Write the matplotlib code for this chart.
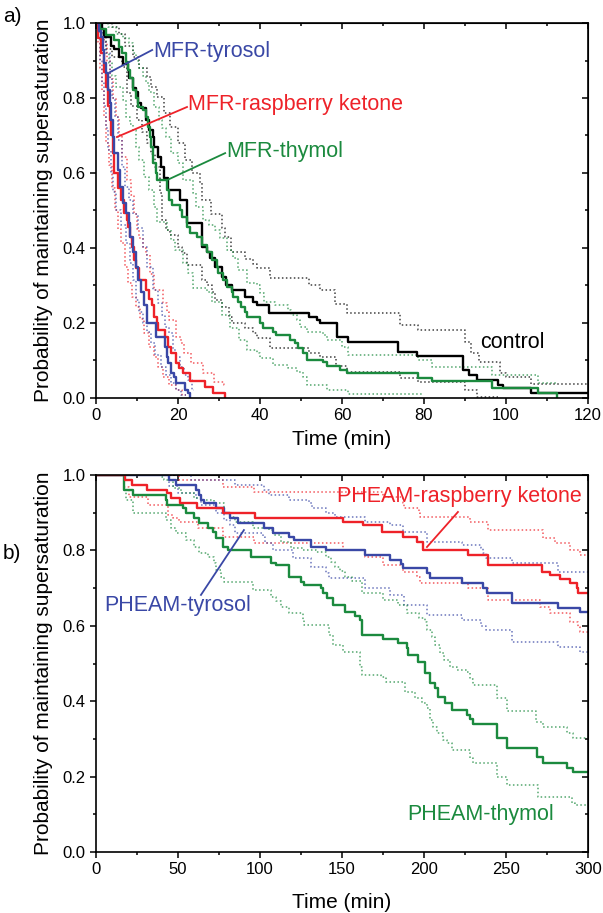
import matplotlib
matplotlib.use('Agg')
import matplotlib.pyplot as plt
from matplotlib.ticker import MultipleLocator, FormatStrFormatter

plt.rcParams['font.family'] = ['Liberation Sans', 'DejaVu Sans']

GREEN = '#1b8a3e'
RED = '#ee2229'
BLUE = '#3a48a6'
BLACK = '#000000'

# ---------------- a) MFR systems, time in min ----------------
ctrl_t = [0, 1.5, 2, 3.6, 4.4, 5.5, 6.5, 7.8, 8.1, 9.0, 9.8, 10.2, 11.0, 12.2, 13.0, 13.9, 14.2, 15.2, 15.9, 16.6,
          17.6, 20.5, 22.2, 25.8, 27.0, 27.8, 29.0, 30.7, 31.8, 33.2, 36.3, 38.3, 39.2, 42.2, 52.0, 54.0, 54.6, 58.8,
          61.5, 73.7, 78.3, 89.5, 91.0, 93.0, 98.0, 99.3, 106.0, 120]
ctrl_s = [1.0, 0.985, 0.963, 0.94, 0.93, 0.91, 0.89, 0.875, 0.853, 0.827, 0.816, 0.787, 0.773, 0.741, 0.715, 0.696,
          0.669, 0.643, 0.616, 0.587, 0.555, 0.528, 0.467, 0.403, 0.39, 0.373, 0.35, 0.323, 0.30, 0.288, 0.27, 0.257,
          0.248, 0.227, 0.216, 0.208, 0.2, 0.163, 0.149, 0.123, 0.112, 0.075, 0.061, 0.048, 0.035, 0.026, 0.013, 0.013]
ctrl_hi_t = [0, 4, 5.5, 7, 9, 10.5, 12.4, 13.5, 15, 16.5, 18, 20, 21.7, 23.5, 25.4, 25.9, 28, 30.7, 31.5, 33, 36.3,
             38.3, 39.2, 42.4, 52, 54.6, 58.3, 61.2, 74.2, 78.5, 90, 91.5, 93.5, 98.5, 100, 106, 120]
ctrl_hi_s = [1.0, 0.99, 0.97, 0.94, 0.91, 0.88, 0.856, 0.83, 0.803, 0.76, 0.723, 0.68, 0.635, 0.6, 0.573, 0.528, 0.49,
             0.453, 0.43, 0.39, 0.37, 0.357, 0.347, 0.32, 0.30, 0.288, 0.25, 0.227, 0.195, 0.181, 0.15, 0.12, 0.096,
             0.067, 0.055, 0.037, 0.037]
ctrl_lo_t = [0, 1, 2.5, 4, 6.3, 7.6, 8.5, 10, 11.2, 12.4, 13.4, 14.4, 15.6, 16, 17, 18, 20, 21, 22.2, 25.8, 27, 28.3,
             29, 30.7, 32.5, 33.2, 36.3, 38.3, 39.2, 42.4, 52, 54.6, 58.5, 61.2, 74.2, 78.5, 90, 93, 98]
ctrl_lo_s = [1.0, 0.97, 0.93, 0.91, 0.883, 0.813, 0.78, 0.74, 0.71, 0.68, 0.65, 0.616, 0.547, 0.475, 0.448, 0.435,
             0.403, 0.387, 0.355, 0.315, 0.30, 0.283, 0.261, 0.243, 0.216, 0.2, 0.187, 0.173, 0.16, 0.133, 0.12, 0.11,
             0.085, 0.07, 0.053, 0.043, 0.02, 0.003, 0.003]

thy_t = [0, 1, 2.4, 4.4, 5.6, 6.4, 7.3, 7.9, 8.3, 9.0, 9.8, 10.2, 11.5, 12.2, 12.7, 13.1, 13.5, 13.9, 14.6, 15.0,
         17.3, 17.9, 18.6, 20.5, 21.0, 22.2, 23.0, 24.6, 25.9, 27.0, 28.3, 29.5, 29.8, 31.0, 32.0, 33.2, 33.5, 34.6,
         35.4, 36.3, 36.8, 40.0, 40.8, 43.2, 44.0, 47.3, 48.5, 49.3, 50.5, 51.5, 55.4, 56.3, 59.5, 61.2, 78.5, 82.0,
         96.5, 107.8, 112.4]
thy_s = [1.0, 0.985, 0.968, 0.955, 0.936, 0.92, 0.896, 0.875, 0.853, 0.821, 0.80, 0.776, 0.768, 0.749, 0.723, 0.696,
         0.669, 0.627, 0.60, 0.581, 0.555, 0.528, 0.515, 0.501, 0.483, 0.456, 0.44, 0.43, 0.408, 0.39, 0.368, 0.35,
         0.333, 0.315, 0.296, 0.283, 0.27, 0.256, 0.243, 0.229, 0.216, 0.2, 0.187, 0.176, 0.168, 0.155, 0.146, 0.133,
         0.12, 0.101, 0.096, 0.085, 0.075, 0.067, 0.053, 0.045, 0.027, 0.013, 0.0]
thy_hi_t = [0, 3, 5, 6.5, 8, 9, 9.8, 10.6, 11.5, 12.2, 13, 14.1, 15.4, 16.2, 17, 18.3, 20, 21.2, 23.7, 24.4, 26, 27.5,
            29, 30.2, 32, 33.4, 34.7, 36.8, 39.2, 40, 41, 43.7, 46.8, 47.5, 49, 49.8, 51.5, 55.4, 56.3, 60, 61.5, 78.5,
            82, 96.5, 107.8, 112.4]
thy_hi_s = [1.0, 0.99, 0.97, 0.96, 0.947, 0.92, 0.9, 0.88, 0.86, 0.84, 0.816, 0.776, 0.741, 0.72, 0.696, 0.653, 0.627,
            0.581, 0.547, 0.509, 0.475, 0.46, 0.448, 0.427, 0.395, 0.373, 0.341, 0.307, 0.30, 0.28, 0.256, 0.248, 0.235,
            0.221, 0.208, 0.189, 0.176, 0.168, 0.155, 0.136, 0.115, 0.101, 0.083, 0.061, 0.04, 0.04]
thy_lo_t = [0, 0.8, 1.7, 2.5, 3.2, 4, 4.9, 6.6, 7.3, 8.2, 9, 9.8, 10.5, 11.7, 13, 14.1, 14.9, 17.3, 18.3, 19.3, 21.2,
            22.4, 23.7, 27, 28.3, 30.7, 32.7, 35, 36.8, 39.2, 40, 43.2, 46.8, 49, 50.5, 51.5, 56.3, 61.5, 80]
thy_lo_s = [1.0, 0.98, 0.955, 0.92, 0.893, 0.86, 0.83, 0.795, 0.749, 0.73, 0.715, 0.669, 0.635, 0.59, 0.555, 0.509,
            0.469, 0.448, 0.42, 0.395, 0.36, 0.333, 0.293, 0.283, 0.256, 0.221, 0.187, 0.155, 0.128, 0.12, 0.107,
            0.088, 0.08, 0.069, 0.056, 0.035, 0.021, 0.01, 0.01]

rk_t = [0, 0.5, 1.2, 2.0, 2.5, 2.9, 3.3, 3.7, 4.1, 4.5, 5.4, 6.1, 6.8, 7.5, 7.8, 8.2, 8.7, 9.2, 9.8, 10.5, 12.2, 13.0,
        13.7, 14.1, 14.8, 15.2, 16.8, 17.6, 18.3, 19.5, 20.2, 21.3, 23.0, 26.6, 28.5, 31.5]
rk_s = [1.0, 0.96, 0.92, 0.87, 0.83, 0.78, 0.741, 0.70, 0.653, 0.60, 0.56, 0.528, 0.493, 0.475, 0.456, 0.43, 0.403,
        0.368, 0.347, 0.315, 0.288, 0.265, 0.248, 0.216, 0.2, 0.181, 0.163, 0.136, 0.12, 0.093, 0.08, 0.067, 0.045,
        0.029, 0.013, 0.0]
rk_hi_t = [0, 1.2, 2.0, 2.8, 3.5, 4.2, 4.8, 5.6, 6.4, 7.5, 8.5, 9.3, 10.0, 10.5, 11.5, 12.2, 13.2, 14.1, 16.3, 17.2,
           17.8, 19.5, 20.7, 21.5, 23.2, 26.1, 28.8, 31.2, 31.5]
rk_hi_s = [1.0, 0.98, 0.95, 0.90, 0.85, 0.80, 0.75, 0.70, 0.643, 0.581, 0.54, 0.49, 0.45, 0.427, 0.40, 0.381, 0.33,
           0.288, 0.253, 0.23, 0.208, 0.163, 0.147, 0.12, 0.093, 0.067, 0.043, 0.035, 0.035]
rk_lo_t = [0, 0.4, 0.9, 1.4, 1.9, 2.5, 3.1, 3.8, 4.6, 5.3, 6.1, 7.0, 7.8, 8.8, 9.8, 10.7, 11.7, 12.9, 14.1, 15.2,
           16.3, 17.8, 19.5, 21.0, 22.0]
rk_lo_s = [1.0, 0.95, 0.88, 0.82, 0.75, 0.68, 0.62, 0.56, 0.50, 0.45, 0.413, 0.35, 0.307, 0.27, 0.243, 0.21, 0.173,
           0.136, 0.11, 0.083, 0.056, 0.035, 0.021, 0.008, 0.008]

ty_t = [0, 0.8, 1.2, 1.6, 2.0, 2.4, 2.9, 3.3, 3.7, 4.1, 4.4, 5.4, 5.9, 6.6, 7.2, 8.0, 8.4, 9.0, 9.7, 10.3, 11.0, 11.8,
        12.4, 14.6, 16.8, 17.2, 17.6, 18.3, 19.0, 19.6, 21.6, 22.5, 23.0]
ty_s = [1.0, 0.98, 0.963, 0.928, 0.893, 0.867, 0.821, 0.787, 0.741, 0.696, 0.653, 0.608, 0.563, 0.52, 0.493, 0.467,
        0.43, 0.39, 0.35, 0.315, 0.283, 0.248, 0.2, 0.163, 0.136, 0.11, 0.093, 0.067, 0.056, 0.04, 0.021, 0.013, 0.0]
ty_hi_t = [0, 1, 1.8, 2.4, 3.3, 4.0, 4.6, 5.4, 6.3, 7.1, 8.0, 9.0, 10.2, 11.5, 12.5, 14.0, 15.1, 16.0, 16.8, 17.8,
           18.8, 19.5, 20.5, 21.5, 22.5, 23.4, 24.0]
ty_hi_s = [1.0, 0.98, 0.95, 0.92, 0.85, 0.80, 0.749, 0.688, 0.616, 0.563, 0.528, 0.49, 0.453, 0.403, 0.35, 0.288,
           0.253, 0.22, 0.19, 0.173, 0.128, 0.11, 0.083, 0.06, 0.048, 0.021, 0.021]
ty_lo_t = [0, 0.5, 1.0, 1.5, 2.0, 2.5, 3.0, 3.6, 4.2, 5.0, 6.0, 7.3, 8.2, 9.0, 9.8, 10.6, 11.5, 12.4, 13.4, 14.5, 15.9,
           17.0, 18.3, 19.5, 20.7, 22.0]
ty_lo_s = [1.0, 0.96, 0.90, 0.84, 0.78, 0.72, 0.66, 0.60, 0.55, 0.50, 0.46, 0.413, 0.36, 0.315, 0.261, 0.23, 0.2, 0.175,
           0.147, 0.115, 0.083, 0.06, 0.04, 0.02, 0.008, 0.008]

# ---------------- b) PHEAM systems, time in min ----------------
prk_t = [0, 17.8, 22, 31, 43, 46, 51, 61.6, 77.4, 97, 150.6, 163, 174.4, 187, 196, 199.4, 227, 239, 272, 277, 283,
         289, 293, 294, 300]
prk_s = [1.0, 0.987, 0.973, 0.96, 0.952, 0.939, 0.925, 0.912, 0.9, 0.886, 0.875, 0.867, 0.849, 0.836, 0.822, 0.801,
         0.788, 0.761, 0.743, 0.735, 0.725, 0.714, 0.70, 0.687, 0.687]
prk_hi_t = [0, 50.6, 77.4, 96.3, 175, 187, 188, 197, 197.6, 228, 239, 272.6, 280, 289, 295, 300]
prk_hi_s = [1.0, 0.987, 0.968, 0.955, 0.942, 0.925, 0.912, 0.9, 0.889, 0.875, 0.854, 0.833, 0.82, 0.801, 0.788, 0.788]
prk_lo_t = [0, 17, 20, 31.7, 43.9, 47, 50.6, 62, 77.4, 96.3, 150.6, 164, 175, 187, 196, 197.6, 227, 239, 271, 277,
            289, 294, 295, 300]
prk_lo_s = [1.0, 0.968, 0.942, 0.92, 0.894, 0.885, 0.875, 0.86, 0.836, 0.82, 0.801, 0.783, 0.761, 0.743, 0.73, 0.714,
            0.70, 0.669, 0.65, 0.634, 0.61, 0.597, 0.584, 0.584]

pty_t = [0, 44.5, 48.8, 61, 63, 64, 66, 73, 78, 82, 86.6, 102.6, 108, 117.7, 120.7, 131, 140, 164, 179.3, 186, 187,
         201.8, 203.7, 223, 236, 238.4, 253.6, 281.7, 295, 300]
pty_s = [1.0, 0.987, 0.973, 0.96, 0.947, 0.934, 0.925, 0.912, 0.9, 0.886, 0.873, 0.86, 0.846, 0.836, 0.828, 0.809,
         0.801, 0.788, 0.775, 0.764, 0.753, 0.74, 0.727, 0.714, 0.70, 0.687, 0.66, 0.647, 0.637, 0.637]
pty_hi_t = [0, 58, 85, 102.6, 105.5, 117.7, 130, 132, 140, 146, 164, 179, 187, 201.8, 223, 235, 236, 238, 253.6,
            281.7, 300]
pty_hi_s = [1.0, 0.987, 0.973, 0.96, 0.947, 0.934, 0.925, 0.912, 0.9, 0.889, 0.875, 0.867, 0.849, 0.822, 0.814, 0.806,
            0.793, 0.78, 0.767, 0.743, 0.743]
pty_lo_t = [0, 44.5, 50, 61, 64, 73, 78, 82, 85, 101.8, 103, 108, 120, 131, 140, 142, 164, 179, 188, 201.8, 223, 235,
            238, 253.6, 281.7, 295, 300]
pty_lo_s = [1.0, 0.97, 0.952, 0.939, 0.92, 0.9, 0.88, 0.867, 0.846, 0.836, 0.82, 0.801, 0.78, 0.756, 0.74, 0.727, 0.70,
            0.682, 0.655, 0.629, 0.615, 0.60, 0.589, 0.557, 0.544, 0.531, 0.531]

pth_t = [0, 17, 22.6, 42.7, 43.5, 53, 55, 60, 63, 68.3, 71.5, 73, 77.4, 80.5, 94.5, 106.7, 110, 117.7, 125, 127, 137,
         138.4, 141, 144.5, 151.8, 158, 161, 162, 175, 184, 189.6, 190, 196.3, 200.6, 203.7, 206.7, 208.5, 212.8, 217,
         226, 228, 230, 244.5, 250.6, 268.9, 272.6, 287, 291, 300]
pth_s = [1.0, 0.96, 0.947, 0.934, 0.92, 0.912, 0.9, 0.886, 0.873, 0.86, 0.849, 0.833, 0.809, 0.801, 0.783, 0.767,
         0.761, 0.73, 0.716, 0.708, 0.70, 0.687, 0.675, 0.655, 0.637, 0.625, 0.615, 0.576, 0.566, 0.555, 0.541, 0.523,
         0.504, 0.475, 0.448, 0.435, 0.411, 0.395, 0.377, 0.363, 0.352, 0.34, 0.302, 0.276, 0.252, 0.236, 0.223,
         0.212, 0.212]
pth_hi_t = [0, 40, 41.5, 47, 52, 60, 65, 72, 78, 82, 85, 96, 105.5, 108, 113, 119, 126, 134, 140, 143, 146, 149, 152,
            156, 162, 175, 184, 189.6, 197, 200.6, 202, 204.7, 207, 209.8, 212, 215.9, 220, 226, 228, 230, 244.5,
            250.6, 268, 272.6, 287, 291, 300]
pth_hi_s = [1.0, 0.995, 0.987, 0.965, 0.952, 0.94, 0.935, 0.925, 0.9, 0.89, 0.875, 0.86, 0.854, 0.84, 0.822, 0.806,
            0.801, 0.796, 0.783, 0.77, 0.756, 0.745, 0.73, 0.72, 0.687, 0.668, 0.655, 0.634, 0.62, 0.61, 0.59, 0.57,
            0.55, 0.528, 0.51, 0.491, 0.483, 0.477, 0.46, 0.443, 0.408, 0.374, 0.345, 0.332, 0.315, 0.302, 0.302]
pth_lo_t = [0, 17, 18, 22.6, 42.7, 46, 49, 55, 60, 63, 68, 72, 73, 76, 78, 96, 106.7, 110, 113, 117.7, 126, 127, 142,
            144.5, 150.6, 161, 162, 174, 177, 188.4, 194.5, 199, 201.8, 203.5, 205.5, 208, 211.6, 214, 217, 228, 230,
            244.5, 250.6, 269.5, 290, 292, 300]
pth_lo_s = [1.0, 0.96, 0.934, 0.9, 0.88, 0.86, 0.846, 0.828, 0.809, 0.793, 0.783, 0.767, 0.748, 0.73, 0.716, 0.695,
            0.676, 0.665, 0.65, 0.634, 0.615, 0.602, 0.576, 0.549, 0.531, 0.491, 0.469, 0.464, 0.451, 0.424, 0.408,
            0.395, 0.382, 0.35, 0.332, 0.315, 0.297, 0.289, 0.27, 0.25, 0.236, 0.199, 0.178, 0.146, 0.13, 0.125, 0.125]


def km(ax, t, s, color, dotted=False):
    if dotted:
        ax.step(t, s, where='post', color=color, lw=1.1, ls=(0, (1, 1.6)), alpha=0.75)
    else:
        ax.step(t, s, where='post', color=color, lw=1.7)


def frame(ax, xmax, xmaj, xmin):
    ax.set_xlim(0, xmax)
    ax.set_ylim(0, 1.0)
    ax.xaxis.set_major_locator(MultipleLocator(xmaj))
    ax.xaxis.set_minor_locator(MultipleLocator(xmin))
    ax.yaxis.set_major_locator(MultipleLocator(0.2))
    ax.yaxis.set_minor_locator(MultipleLocator(0.1))
    ax.yaxis.set_major_formatter(FormatStrFormatter('%.1f'))
    ax.tick_params(which='both', direction='out', width=1.1, labelsize=12, pad=3)
    ax.tick_params(which='major', length=4.5)
    ax.tick_params(which='minor', length=2.5)
    for sp in ax.spines.values():
        sp.set_linewidth(1.2)
    top = ax.secondary_xaxis('top')
    top.xaxis.set_major_locator(MultipleLocator(xmaj))
    top.xaxis.set_minor_locator(MultipleLocator(xmin))
    top.tick_params(which='both', direction='in', labeltop=False, width=1.1)
    top.tick_params(which='major', length=4.5)
    top.tick_params(which='minor', length=2.5)
    right = ax.secondary_yaxis('right')
    right.yaxis.set_major_locator(MultipleLocator(0.2))
    right.yaxis.set_minor_locator(MultipleLocator(0.1))
    right.tick_params(which='both', direction='in', labelright=False, width=1.1)
    right.tick_params(which='major', length=4.5)
    right.tick_params(which='minor', length=2.5)
    ax.set_ylabel('Probability of maintaining supersaturation', fontsize=15)
    ax.yaxis.set_label_coords(-0.088, 0.5)


fig = plt.figure(figsize=(6.03, 9.13), dpi=100)
ax1 = fig.add_axes([0.1592, 0.5641, 0.8159, 0.4107])
ax2 = fig.add_axes([0.1592, 0.0668, 0.8159, 0.4129])

# panel a
for t, s, c in [(ctrl_hi_t, ctrl_hi_s, BLACK), (ctrl_lo_t, ctrl_lo_s, BLACK),
                (thy_hi_t, thy_hi_s, GREEN), (thy_lo_t, thy_lo_s, GREEN),
                (rk_hi_t, rk_hi_s, RED), (rk_lo_t, rk_lo_s, RED),
                (ty_hi_t, ty_hi_s, BLUE), (ty_lo_t, ty_lo_s, BLUE)]:
    km(ax1, t, s, c, dotted=True)
km(ax1, ctrl_t, ctrl_s, BLACK)
km(ax1, thy_t, thy_s, GREEN)
km(ax1, rk_t, rk_s, RED)
km(ax1, ty_t, ty_s, BLUE)
frame(ax1, 120, 20, 10)
ax1.set_xlabel('Time (min)', fontsize=15, va='center')
ax1.xaxis.set_label_coords(0.5, -0.112)

ax1.plot([13.7, 3.4], [0.928, 0.869], color=BLUE, lw=1.3)
ax1.text(13.9, 0.925, 'MFR-tyrosol', color=BLUE, fontsize=15.5, va='center')
ax1.plot([22.2, 5.1], [0.776, 0.696], color=RED, lw=1.3)
ax1.text(22.4, 0.782, 'MFR-raspberry ketone', color=RED, fontsize=15.5, va='center')
ax1.plot([31.5, 17.3], [0.653, 0.581], color=GREEN, lw=1.3)
ax1.text(31.8, 0.656, 'MFR-thymol', color=GREEN, fontsize=15.5, va='center')
ax1.text(93.7, 0.147, 'control', color=BLACK, fontsize=15.5, va='center')

# panel b
for t, s, c in [(prk_hi_t, prk_hi_s, RED), (prk_lo_t, prk_lo_s, RED),
                (pty_hi_t, pty_hi_s, BLUE), (pty_lo_t, pty_lo_s, BLUE),
                (pth_hi_t, pth_hi_s, GREEN), (pth_lo_t, pth_lo_s, GREEN)]:
    km(ax2, t, s, c, dotted=True)
km(ax2, pth_t, pth_s, GREEN)
km(ax2, pty_t, pty_s, BLUE)
km(ax2, prk_t, prk_s, RED)
frame(ax2, 300, 50, 25)
ax2.set_xlabel('Time (min)', fontsize=15, va='center')
ax2.xaxis.set_label_coords(0.5, -0.135)

ax2.plot([220.7, 201.8], [0.902, 0.809], color=RED, lw=1.3)
ax2.text(147, 0.942, 'PHEAM-raspberry ketone', color=RED, fontsize=15.5, va='center')
ax2.plot([64, 90.2], [0.682, 0.854], color=BLUE, lw=1.3)
ax2.text(4.9, 0.655, 'PHEAM-tyrosol', color=BLUE, fontsize=15.5, va='center')
ax2.text(189.6, 0.10, 'PHEAM-thymol', color=GREEN, fontsize=15.5, va='center')

fig.text(3 / 603, 1 - 17 / 913, 'a)', fontsize=15, va='center', ha='left')
fig.text(3 / 603, 1 - 553 / 913, 'b)', fontsize=15, va='center', ha='left')

fig.savefig('out.png', dpi=100)
